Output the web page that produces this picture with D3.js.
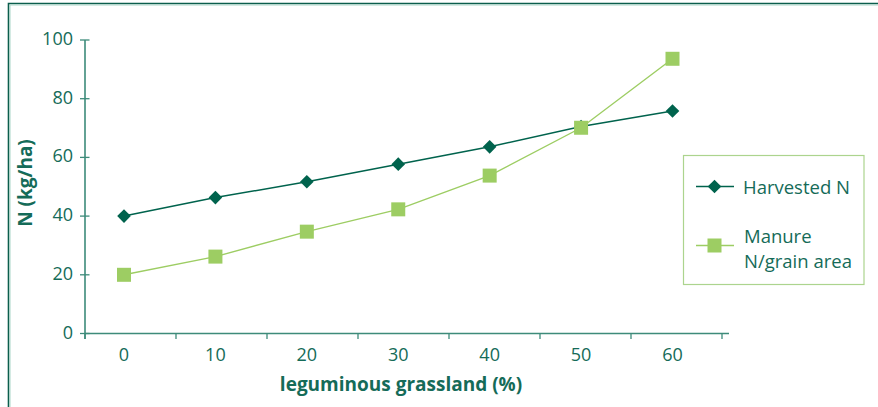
<!DOCTYPE html>
<html><head><meta charset="utf-8">
<script src="https://cdn.jsdelivr.net/npm/d3@7"></script>
<style>body{margin:0;background:#fff}svg{display:block}text{font-family:"Open Sans",Lato,sans-serif}</style>
</head><body><svg id="c" width="878" height="407"></svg>
<script>
const categories = [0, 10, 20, 30, 40, 50, 60];
const harvestedN = [40, 46.3, 51.7, 57.7, 63.6, 70.5, 75.8];
const manureN = [20, 26.2, 34.7, 42.3, 53.8, 70.1, 93.6];
const yTicks = [0, 20, 40, 60, 80, 100];
const seriesNames = ["Harvested N", ["Manure", "N/grain area"]];

const dark = "#00634d", light = "#9dcd63", txt = "#156b58", axisCol = "#3d8b7a";
const svg = d3.select("#c");

// frame
svg.append("path").attr("d", "M8.5,407 V3.5 H878").attr("fill", "none").attr("stroke", "#0b5e4c").attr("stroke-width", 1.6);
svg.append("path").attr("d", "M10,407 V5 H878").attr("fill", "none").attr("stroke", "#a9d6c8").attr("stroke-width", 1);

const y = d3.scaleLinear().domain([0, 100]).range([333.5, 40]);
const x = d3.scaleLinear().domain([0, 60]).range([124, 672.5]);
// category boundaries for the axis tick marks
const xb = d3.scaleLinear().domain([0, 7]).range([85, 722]);

// x axis
const gx = svg.append("g");
gx.append("line").attr("x1", 85).attr("x2", 729).attr("y1", y(0)).attr("y2", y(0)).attr("stroke", axisCol).attr("stroke-width", 1.6);
gx.selectAll("line.t").data(d3.range(8)).join("line").attr("class", "t")
  .attr("x1", d => xb(d)).attr("x2", d => xb(d)).attr("y1", y(0)).attr("y2", y(0) + 5.5)
  .attr("stroke", axisCol).attr("stroke-width", 1.3);
gx.selectAll("text").data(categories).join("text")
  .attr("x", d => x(d)).attr("y", 361).attr("text-anchor", "middle")
  .attr("fill", txt).attr("font-size", 18).text(d => d);

// y axis
const gy = svg.append("g");
gy.append("line").attr("x1", 85).attr("x2", 85).attr("y1", y(100)).attr("y2", y(0) + 5.5).attr("stroke", axisCol).attr("stroke-width", 1.6);
gy.selectAll("line.t").data(yTicks).join("line").attr("class", "t")
  .attr("x1", 80).attr("x2", 89.5).attr("y1", d => y(d)).attr("y2", d => y(d))
  .attr("stroke", axisCol).attr("stroke-width", 1.3);
gy.selectAll("text").data(yTicks).join("text")
  .attr("x", 73).attr("y", d => y(d) + 5).attr("text-anchor", "end")
  .attr("fill", txt).attr("font-size", 18).text(d => d);

// titles
svg.append("text").attr("x", 401).attr("y", 391).attr("text-anchor", "middle")
  .attr("fill", txt).attr("font-size", 19).attr("font-weight", "bold").text("leguminous grassland (%)");
svg.append("text").attr("transform", "translate(32,183) rotate(-90)").attr("text-anchor", "middle")
  .attr("fill", txt).attr("font-size", 19).attr("font-weight", "bold").text("N (kg/ha)");

const line = d3.line().x((d, i) => x(categories[i])).y(d => y(d));
svg.append("path").datum(harvestedN).attr("d", line).attr("fill", "none").attr("stroke", dark).attr("stroke-width", 1.5);
svg.append("path").datum(manureN).attr("d", line).attr("fill", "none").attr("stroke", light).attr("stroke-width", 1.4);

function diamond(cx, cy, r) { return `M${cx},${cy - r}L${cx + r},${cy}L${cx},${cy + r}L${cx - r},${cy}Z`; }
svg.selectAll("path.h").data(harvestedN).join("path").attr("class", "h")
  .attr("d", (d, i) => diamond(x(categories[i]), y(d), 6.8)).attr("fill", dark);
svg.selectAll("rect.m").data(manureN).join("rect").attr("class", "m")
  .attr("x", (d, i) => x(categories[i]) - 7).attr("y", d => y(d) - 7)
  .attr("width", 14).attr("height", 14).attr("fill", light);

// legend
const lg = svg.append("g");
lg.append("rect").attr("x", 683.5).attr("y", 155.5).attr("width", 180.5).attr("height", 129)
  .attr("fill", "#fff").attr("stroke", "#acd48e").attr("stroke-width", 1.2);
lg.append("line").attr("x1", 696).attr("x2", 734).attr("y1", 186.5).attr("y2", 186.5).attr("stroke", dark).attr("stroke-width", 1.5);
lg.append("path").attr("d", diamond(714.5, 186.5, 6.8)).attr("fill", dark);
lg.append("text").attr("x", 743).attr("y", 194).attr("fill", txt).attr("font-size", 18.5).text(seriesNames[0]);
lg.append("line").attr("x1", 696).attr("x2", 734).attr("y1", 245.5).attr("y2", 245.5).attr("stroke", light).attr("stroke-width", 1.4);
lg.append("rect").attr("x", 707.5).attr("y", 238.5).attr("width", 14).attr("height", 14).attr("fill", light);
lg.append("text").attr("x", 744).attr("y", 243).attr("fill", txt).attr("font-size", 18.5).text(seriesNames[1][0]);
lg.append("text").attr("x", 744).attr("y", 268).attr("fill", txt).attr("font-size", 18.5).text(seriesNames[1][1]);
</script></body></html>
